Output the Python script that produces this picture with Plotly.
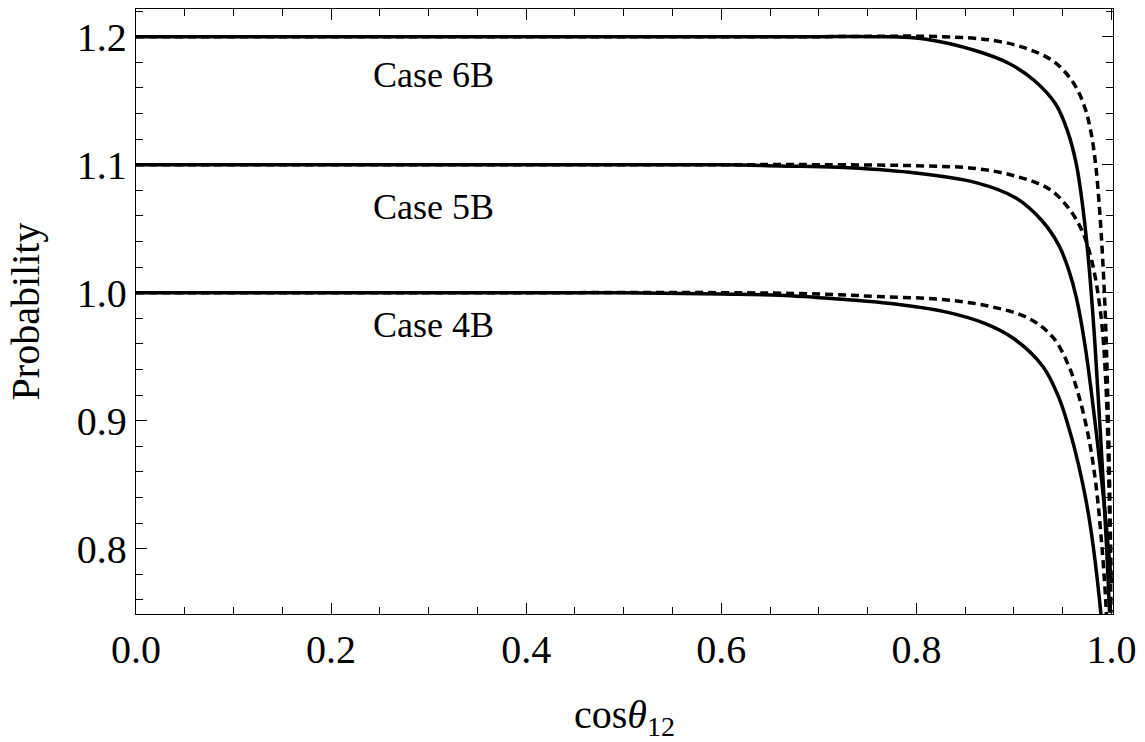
import plotly.graph_objects as go

# ---- data ----
x_4b_solid = [0.0, 0.3, 0.5, 0.6, 0.66, 0.72, 0.78, 0.83, 0.87, 0.90, 0.93, 0.946, 0.956, 0.966, 0.977, 0.989, 0.992]
y_4b_solid = [1.0, 1.0, 1.0, 0.999, 0.998, 0.995, 0.991, 0.985, 0.976, 0.964, 0.942, 0.918, 0.895, 0.866, 0.824, 0.750, 0.72]

x_4b_dash = [0.0, 0.4, 0.6, 0.7, 0.76, 0.82, 0.871, 0.915, 0.940, 0.956, 0.967, 0.977, 0.984, 0.989, 0.994, 0.996]
y_4b_dash = [1.0, 1.0, 1.0, 0.999, 0.997, 0.995, 0.990, 0.980, 0.965, 0.943, 0.918, 0.885, 0.850, 0.812, 0.760, 0.72]

x_5b_solid = [0.0, 0.4, 0.6, 0.66, 0.72, 0.793, 0.861, 0.902, 0.929, 0.946, 0.956, 0.964, 0.973, 0.984, 0.992, 1.0]
y_5b_solid = [1.1, 1.1, 1.1, 1.099, 1.098, 1.094, 1.086, 1.074, 1.056, 1.037, 1.018, 0.996, 0.958, 0.893, 0.838, 0.773]

x_5b_dash = [0.0, 0.4, 0.6, 0.7, 0.81, 0.861, 0.902, 0.936, 0.956, 0.970, 0.980, 0.989, 0.994, 0.997, 0.9995]
y_5b_dash = [1.1, 1.1, 1.1, 1.1, 1.099, 1.097, 1.091, 1.081, 1.066, 1.048, 1.024, 0.983, 0.932, 0.860, 0.75]

x_6b_solid = [0.0, 0.4, 0.6, 0.7, 0.759, 0.81, 0.861, 0.895, 0.922, 0.943, 0.955, 0.964, 0.971, 0.977, 0.983, 0.989, 0.995, 0.998]
y_6b_solid = [1.2, 1.2, 1.2, 1.2, 1.2, 1.198, 1.189, 1.179, 1.165, 1.147, 1.126, 1.100, 1.064, 1.020, 0.960, 0.885, 0.800, 0.75]

x_6b_dash = [0.0, 0.4, 0.7, 0.827, 0.879, 0.912, 0.94, 0.96, 0.972, 0.979, 0.984, 0.988, 0.991, 0.994, 0.997, 0.9995]
y_6b_dash = [1.2, 1.2, 1.2, 1.2, 1.197, 1.191, 1.181, 1.165, 1.146, 1.125, 1.098, 1.062, 1.025, 0.975, 0.890, 0.780]

case_labels = ["Case 6B", "Case 5B", "Case 4B"]
case_label_x = [0.305, 0.305, 0.305]
case_label_y = [1.170, 1.067, 0.975]

x_ticks = [0.0, 0.2, 0.4, 0.6, 0.8, 1.0]
y_ticks = [0.8, 0.9, 1.0, 1.1, 1.2]

FONT = "Liberation Serif"

fig = go.Figure()
series = [
    (x_4b_solid, y_4b_solid, "solid"), (x_4b_dash, y_4b_dash, "8px,5px"),
    (x_5b_solid, y_5b_solid, "solid"), (x_5b_dash, y_5b_dash, "8px,5px"),
    (x_6b_solid, y_6b_solid, "solid"), (x_6b_dash, y_6b_dash, "8px,5px"),
]
for xs, ys, dash in series:
    fig.add_trace(go.Scatter(
        x=xs, y=ys, mode="lines",
        line=dict(color="black", width=3.5, dash=dash, shape="spline", smoothing=1.0),
        showlegend=False, hoverinfo="skip"))

for t, xx, yy in zip(case_labels, case_label_x, case_label_y):
    fig.add_annotation(x=xx, y=yy, text=t, showarrow=False,
                       font=dict(family=FONT, size=36, color="black"),
                       xanchor="center", yanchor="middle")

axis_common = dict(
    showline=True, linecolor="black", linewidth=1.3, mirror="ticks",
    ticks="inside", ticklen=11, tickwidth=1, tickcolor="black",
    showgrid=False, zeroline=False,
    tickfont=dict(family=FONT, size=40, color="black"),
)

fig.update_xaxes(
    range=[0, 1.0015], tickvals=x_ticks, tickformat=".1f",
    minor=dict(dtick=0.05, tick0=0, ticks="inside", ticklen=7, tickwidth=1, tickcolor="black"),
    title=dict(text="cos<i>θ</i><sub>12</sub>", font=dict(family=FONT, size=40, color="black"), standoff=34),
    **axis_common)
fig.update_yaxes(
    range=[0.749, 1.2216], tickvals=y_ticks, tickformat=".1f",
    minor=dict(dtick=0.02, tick0=0.8, ticks="inside", ticklen=7, tickwidth=1, tickcolor="black"),
    title=dict(text="Probability", font=dict(family=FONT, size=40, color="black"), standoff=24),
    **axis_common)

fig.update_layout(
    width=1145, height=742,
    margin=dict(l=136, r=29, t=8, b=128),
    plot_bgcolor="white", paper_bgcolor="white",
)

fig.write_html("out.html")
